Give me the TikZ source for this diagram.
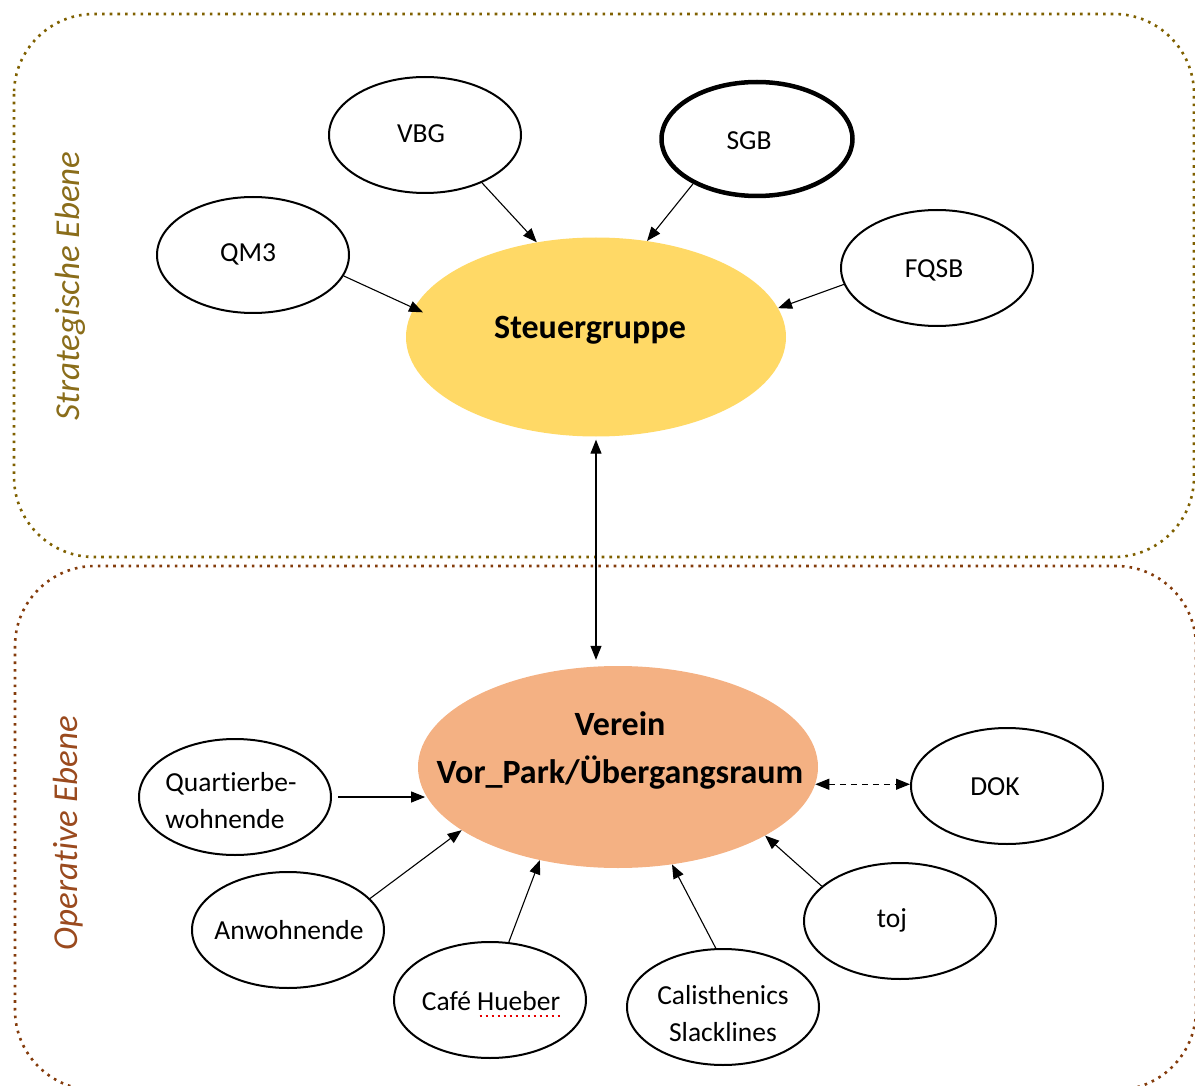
\documentclass[tikz,border=0pt]{standalone}
\usepackage{fontspec}
\setmainfont[Ligatures={NoCommon}]{Carlito}
\usetikzlibrary{shapes.geometric,arrows.meta,calc}
\definecolor{goldline}{HTML}{7F6000}
\definecolor{brownline}{HTML}{843C0C}
\definecolor{goldtext}{HTML}{8A6D1A}
\definecolor{browntext}{HTML}{9A4A1E}
\definecolor{steuerfill}{HTML}{FFD966}
\definecolor{vereinfill}{HTML}{F4B183}
\definecolor{spellred}{HTML}{E60000}
\begin{document}
\begin{tikzpicture}[x=1pt,y=-1pt,
  actor/.style={ellipse, draw, line width=2pt, inner sep=0pt, minimum width=192pt, minimum height=116pt},
  hub/.style={ellipse, draw=none, inner sep=0pt},
  lbl/.style={inner sep=0pt, font=\fontsize{27.5}{37}\selectfont},
  hublbl/.style={inner sep=0pt, font=\fontsize{34}{48}\selectfont\bfseries, align=center},
  levellbl/.style={inner sep=0pt, rotate=90, font=\fontsize{35}{40}\selectfont\itshape},
  flow/.style={-{Triangle[length=14pt,width=11pt]}, line width=1.1pt},
  biflow/.style={{Triangle[length=14pt,width=11pt]}-{Triangle[length=14pt,width=11pt]}, line width=1.1pt},
  level/.style={dash pattern=on 2.6pt off 5.1pt, line width=2.6pt, rounded corners=80pt},
]
\useasboundingbox (0,0) rectangle (1195,1086);
\clip (0,0) rectangle (1195,1086);

% level frames
\draw[level, goldline] (14,14) rectangle (1194,557);
\draw[level, brownline] (15,566) rectangle (1196,1090);
\node[levellbl, text=goldtext] (strat) at (70,286) {Strategische Ebene};
\node[levellbl, text=browntext] (oper) at (68,833) {Operative Ebene};

% central hubs
\node[hub, fill=steuerfill, minimum width=380pt, minimum height=199pt] (steuer) at (596,337) {};
\node[hublbl] (steuerT) at (590,330) {Steuergruppe};
\node[hub, fill=vereinfill, minimum width=400pt, minimum height=202pt] (verein) at (618,767) {};
\node[hublbl] (vereinT) at (620,750) {Verein\\Vor\_Park/Übergangsraum};

% strategic actors
\node[actor] (vbg) at (425,135) {};
\node[lbl] (vbgT) at (421,134) {VBG};
\node[actor, line width=4.5pt, minimum width=191pt, minimum height=114pt] (sgb) at (757,139) {};
\node[lbl] (sgbT) at (749,141) {SGB};
\node[actor] (qm3) at (253,255) {};
\node[lbl] (qm3T) at (248,254) {QM3};
\node[actor] (fqsb) at (937,268) {};
\node[lbl] (fqsbT) at (934,270) {FQSB};

% operative actors
\node[actor] (quartier) at (235,797) {};
\node[lbl, align=left] (quartierT) at (231,801) {Quartierbe-\\wohnende};
\node[actor] (dok) at (1007,786) {};
\node[lbl] (dokT) at (995,787) {DOK};
\node[actor] (anw) at (288,930) {};
\node[lbl] (anwT) at (289,930) {Anwohnende};
\node[actor] (cafe) at (490,1000) {};
\node[lbl] (cafeT) at (491,1001) {Café Hueber};
\draw[spellred, line width=2pt, dash pattern=on 2.4pt off 3.6pt]
  ([shift={(58,6)}]cafeT.base west) -- ([shift={(2,6)}]cafeT.base east);
\node[actor] (calis) at (723,1007) {};
\node[lbl, align=center] (calisT) at (723,1014) {Calisthenics\\Slacklines};
\node[actor] (toj) at (900,921) {};
\node[lbl] (tojT) at (892,920) {toj};

% connectors
\draw[flow] (vbg.-40) -- (steuer.122);
\draw[flow] (sgb.215) -- (steuer.62);
\draw[flow, shorten >=-10pt] (qm3.-13) -- (steuer.171);
\draw[flow] (fqsb.190) -- (steuer.9);
\draw[biflow, shorten <=3pt, shorten >=6pt] (steuer.south) -- (steuer.south |- verein.north);
\draw[flow, shorten <=6pt, shorten >=0pt] (quartier.east) -- (quartier.east -| verein.188);
\draw[flow] (anw.21) -- (verein.202);
\draw[flow] (cafe.72) -- (verein.230);
\draw[flow] (calis.97) -- (verein.-61);
\draw[flow] (toj.156) -- (verein.-25);
\draw[biflow, dash pattern=on 6pt off 5pt] (verein.-5) -- (verein.-5 -| dok.west);
\end{tikzpicture}
\end{document}
